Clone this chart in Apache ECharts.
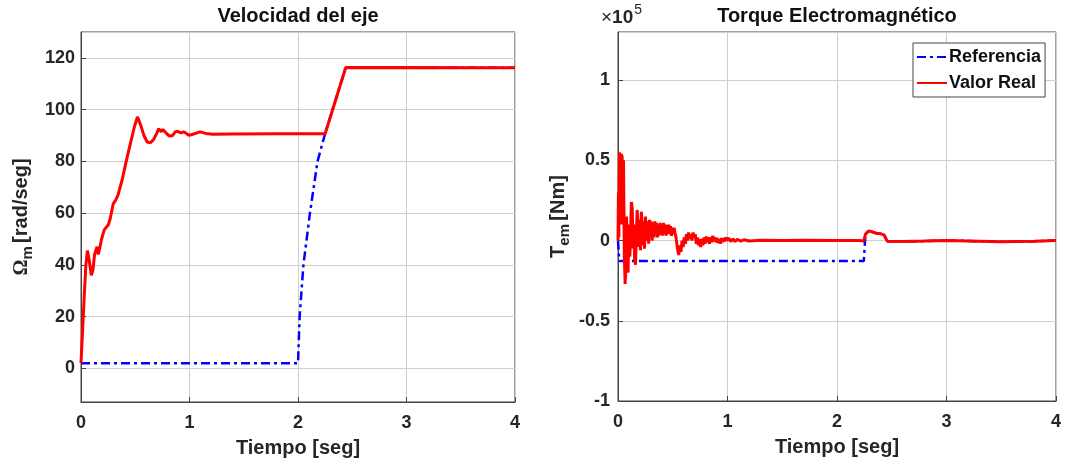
<!DOCTYPE html>
<html>
<head>
<meta charset="utf-8">
<script src="https://cdn.jsdelivr.net/npm/echarts@6/dist/echarts.min.js"></script>
<style>
  html, body { margin: 0; padding: 0; background: #fff; }
  #chart { width: 1084px; height: 465px; }
</style>
</head>
<body>
<div id="chart"></div>
<script>
// velocidad del eje [rad/seg] : [tiempo, valor]
var velRef = [[0, 2], [2.0, 2], [2.015, 20], [2.05, 40], [2.11, 60], [2.18, 80], [2.25, 90.7], [2.44, 116.2], [4, 116.2]];
var velReal = [
  [0, 2], [0.015, 15], [0.03, 28], [0.045, 40], [0.059, 45.5], [0.075, 42], [0.095, 36], [0.11, 38],
  [0.125, 44], [0.148, 47], [0.16, 44], [0.172, 43.5], [0.19, 50], [0.214, 53.5], [0.23, 53],
  [0.252, 55.5], [0.27, 58], [0.297, 63.6], [0.32, 65], [0.341, 67], [0.38, 73], [0.415, 79.7],
  [0.45, 86], [0.49, 93], [0.52, 97.2], [0.55, 94], [0.58, 90], [0.61, 87.5], [0.64, 87.2],
  [0.67, 88.5], [0.7, 91], [0.715, 92.6], [0.74, 91.5], [0.755, 92.3], [0.772, 92.4], [0.795, 90.5],
  [0.816, 89.8], [0.845, 90], [0.87, 91.5], [0.89, 91.6], [0.92, 91], [0.95, 91.4], [0.994, 90.1],
  [1.04, 90.6], [1.098, 91.4], [1.15, 90.8], [1.217, 90.5], [1.4, 90.6], [1.8, 90.7], [2.25, 90.7],
  [2.44, 116.3], [4, 116.2]
];

// torque electromagnetico, en unidades de 10^5 Nm
var torqueRef = [
  [0, 0], [0.012, -0.127], [2.245, -0.127], [2.26, 0.04], [2.29, 0.06], [2.32, 0.055], [2.36, 0.045],
  [2.4, 0.042], [2.43, 0.035], [2.46, -0.005], [2.6, -0.006], [2.8, -0.003], [3.0, 0.001],
  [3.2, -0.002], [3.5, -0.008], [3.8, -0.005], [4.0, 0.0]
];
var torqueReal = [
  [0, 0], [0.004, 0.3], [0.008, 0.02], [0.012, 0.55], [0.02, 0.5], [0.025, 0.1], [0.03, 0.54],
  [0.038, 0.52], [0.045, 0.1], [0.05, 0.5], [0.058, -0.1], [0.065, -0.27], [0.072, -0.18],
  [0.078, 0.15], [0.085, -0.05], [0.092, -0.2], [0.1, 0.1], [0.108, -0.1], [0.115, 0.05],
  [0.122, 0.24], [0.13, 0.2], [0.138, -0.05], [0.145, 0.1], [0.152, -0.12], [0.16, -0.15],
  [0.168, 0.05], [0.175, 0.19], [0.182, 0.18], [0.19, -0.04], [0.198, 0.13], [0.205, -0.06],
  [0.213, 0.18], [0.22, 0.17], [0.228, -0.03], [0.235, 0.12], [0.242, -0.05], [0.25, 0.15],
  [0.258, 0.14], [0.265, 0.0], [0.272, 0.12], [0.28, -0.02], [0.288, 0.13], [0.296, 0.03],
  [0.304, 0.12], [0.312, 0.0], [0.32, 0.11], [0.328, 0.02], [0.336, 0.12], [0.344, 0.03],
  [0.352, 0.11], [0.36, 0.02], [0.368, 0.1], [0.376, 0.03], [0.384, 0.11], [0.392, 0.04],
  [0.4, 0.1], [0.408, 0.03], [0.416, 0.11], [0.424, 0.04], [0.432, 0.1], [0.44, 0.03],
  [0.448, 0.1], [0.456, 0.04], [0.464, 0.1], [0.472, 0.04], [0.48, 0.09], [0.488, 0.03],
  [0.496, 0.08], [0.504, 0.04], [0.512, 0.08], [0.52, 0.05], [0.53, 0.02], [0.545, -0.06],
  [0.555, -0.09], [0.565, -0.03], [0.575, -0.07], [0.585, 0.0], [0.595, -0.04], [0.605, 0.02],
  [0.615, -0.02], [0.625, 0.04], [0.635, 0.0], [0.645, 0.05], [0.655, 0.01], [0.665, 0.04],
  [0.675, 0.0], [0.685, 0.05], [0.695, 0.02], [0.705, 0.04], [0.715, -0.02], [0.725, 0.02],
  [0.735, -0.03], [0.745, 0.01], [0.755, -0.04], [0.765, 0.01], [0.775, -0.03], [0.785, 0.02],
  [0.795, -0.02], [0.805, 0.025], [0.815, -0.01], [0.825, 0.02], [0.835, -0.02], [0.845, 0.02],
  [0.855, -0.01], [0.865, 0.03], [0.875, -0.005], [0.885, 0.02], [0.895, -0.01], [0.905, 0.015],
  [0.915, -0.015], [0.925, 0.01], [0.935, -0.02], [0.945, 0.015], [0.955, -0.01], [0.965, 0.015],
  [0.975, -0.005], [0.985, 0.02], [0.995, 0.0], [1.01, 0.015], [1.03, -0.005], [1.05, 0.01],
  [1.07, -0.005], [1.09, 0.008], [1.12, -0.004], [1.15, 0.005], [1.2, -0.003], [1.3, 0.002],
  [1.5, 0.0], [1.7, 0.002], [2.0, 0.0], [2.2, 0.0], [2.245, -0.002], [2.26, 0.04], [2.29, 0.06],
  [2.32, 0.055], [2.36, 0.045], [2.4, 0.042], [2.43, 0.035], [2.46, -0.005], [2.6, -0.006],
  [2.8, -0.003], [3.0, 0.001], [3.2, -0.002], [3.5, -0.008], [3.8, -0.005], [4.0, 0.0]
];

var titles = ["Velocidad del eje", "Torque Electromagnético"];
var xName = "Tiempo [seg]";
var seriesNames = ["Referencia", "Valor Real"];

var font = "'Liberation Sans', Arial, Helvetica, sans-serif";
var txt = "#262626";
var axisCol = "#444";
var gridCol = "#cfcfcf";
var refStyle = { color: "#0000ff", width: 2.5, type: [9, 4, 3, 4] };
var realStyle = { color: "#ff0000", width: 3, type: "solid" };

var chart = echarts.init(document.getElementById("chart"));

function xAxisOf (gridIndex) {
  return {
    type: "value", gridIndex: gridIndex, min: 0, max: 4, interval: 1,
    name: xName, nameLocation: "middle", nameGap: 36,
    nameTextStyle: { fontFamily: font, fontWeight: "bold", fontSize: 20, color: txt },
    axisLine: { show: true, onZero: false, lineStyle: { color: axisCol, width: 1 } },
    axisTick: { show: true, inside: true, length: 5, lineStyle: { color: axisCol } },
    axisLabel: { fontFamily: font, fontWeight: "bold", fontSize: 18, color: txt, margin: 12 },
    splitLine: { show: true, lineStyle: { color: gridCol, width: 1 } }
  };
}

var ySub = {
  a: { fontFamily: font, fontWeight: "bold", fontSize: 20, color: txt },
  om: { fontFamily: "'Liberation Serif', 'DejaVu Serif', serif", fontWeight: "bold", fontSize: 20, color: txt },
  sub: { fontFamily: font, fontWeight: "bold", fontSize: 15, color: txt, padding: [12, 0, 0, 0] }
};

function lineSeries (name, data, style, xi, yi) {
  return {
    name: name, type: "line", xAxisIndex: xi, yAxisIndex: yi, data: data,
    showSymbol: false, symbol: "none", lineStyle: style, itemStyle: { color: style.color },
    emphasis: { disabled: true }, animation: false
  };
}

chart.setOption({
  animation: false,
  title: [
    { text: titles[0], left: 298, top: 6, textAlign: "center", padding: 0,
      textStyle: { fontFamily: font, fontWeight: "bold", fontSize: 20, color: "#111" } },
    { text: titles[1], left: 837, top: 6, textAlign: "center", padding: 0,
      textStyle: { fontFamily: font, fontWeight: "bold", fontSize: 20, color: "#111" } }
  ],
  legend: {
    data: seriesNames, orient: "vertical", left: 913, top: 43,
    itemWidth: 30, itemHeight: 12, itemGap: 8, padding: [5, 4, 5, 3],
    itemStyle: { opacity: 0 },
    borderColor: axisCol, borderWidth: 1, backgroundColor: "#fff",
    textStyle: { fontFamily: font, fontWeight: "bold", fontSize: 18, color: "#111", padding: [0, 0, 0, -3] }
  },
  grid: [
    { left: 81, top: 32, width: 434, height: 370, show: true, borderColor: axisCol, borderWidth: 1, backgroundColor: "#fff" },
    { left: 618, top: 32, width: 438, height: 369, show: true, borderColor: axisCol, borderWidth: 1, backgroundColor: "#fff" }
  ],
  xAxis: [xAxisOf(0), xAxisOf(1)],
  yAxis: [
    {
      type: "value", gridIndex: 0, min: -13, max: 130, splitNumber: 7,
      name: "{om|Ω}{sub|m} {a|[rad/seg]}", nameLocation: "middle", nameGap: 46,
      nameTextStyle: { rich: ySub },
      axisLine: { show: true, onZero: false, lineStyle: { color: axisCol, width: 1 } },
      axisTick: { show: true, inside: true, length: 5, lineStyle: { color: axisCol } },
      axisLabel: { fontFamily: font, fontWeight: "bold", fontSize: 18, color: txt, margin: 6,
        showMinLabel: false, showMaxLabel: false },
      splitLine: { show: true, lineStyle: { color: gridCol, width: 1 } }
    },
    {
      type: "value", gridIndex: 1, min: -1, max: 1.3, interval: 0.5,
      name: "{a|T}{sub|em} {a|[Nm]}", nameLocation: "middle", nameGap: 46,
      nameTextStyle: { rich: ySub },
      axisLine: { show: true, onZero: false, lineStyle: { color: axisCol, width: 1 } },
      axisTick: { show: true, inside: true, length: 5, lineStyle: { color: axisCol } },
      axisLabel: { fontFamily: font, fontWeight: "bold", fontSize: 18, color: txt, margin: 8,
        showMaxLabel: false },
      splitLine: { show: true, lineStyle: { color: gridCol, width: 1 } }
    }
  ],
  graphic: [
    {
      type: "text", left: 601, top: 3, silent: true,
      style: {
        text: "{x|×}{a|10}{s|5}",
        rich: {
          x: { fontFamily: font, fontSize: 19, fill: txt, padding: [6, 0, 0, 0] },
          a: { fontFamily: font, fontWeight: "bold", fontSize: 19, fill: txt, padding: [6, 0, 0, 0] },
          s: { fontFamily: font, fontSize: 14, fill: txt, padding: [0, 0, 10, 1] }
        }
      }
    }
  ],
  series: [
    lineSeries(seriesNames[0], velRef, refStyle, 0, 0),
    lineSeries(seriesNames[1], velReal, realStyle, 0, 0),
    lineSeries(seriesNames[0], torqueRef, refStyle, 1, 1),
    lineSeries(seriesNames[1], torqueReal, realStyle, 1, 1)
  ]
});
</script>
</body>
</html>
